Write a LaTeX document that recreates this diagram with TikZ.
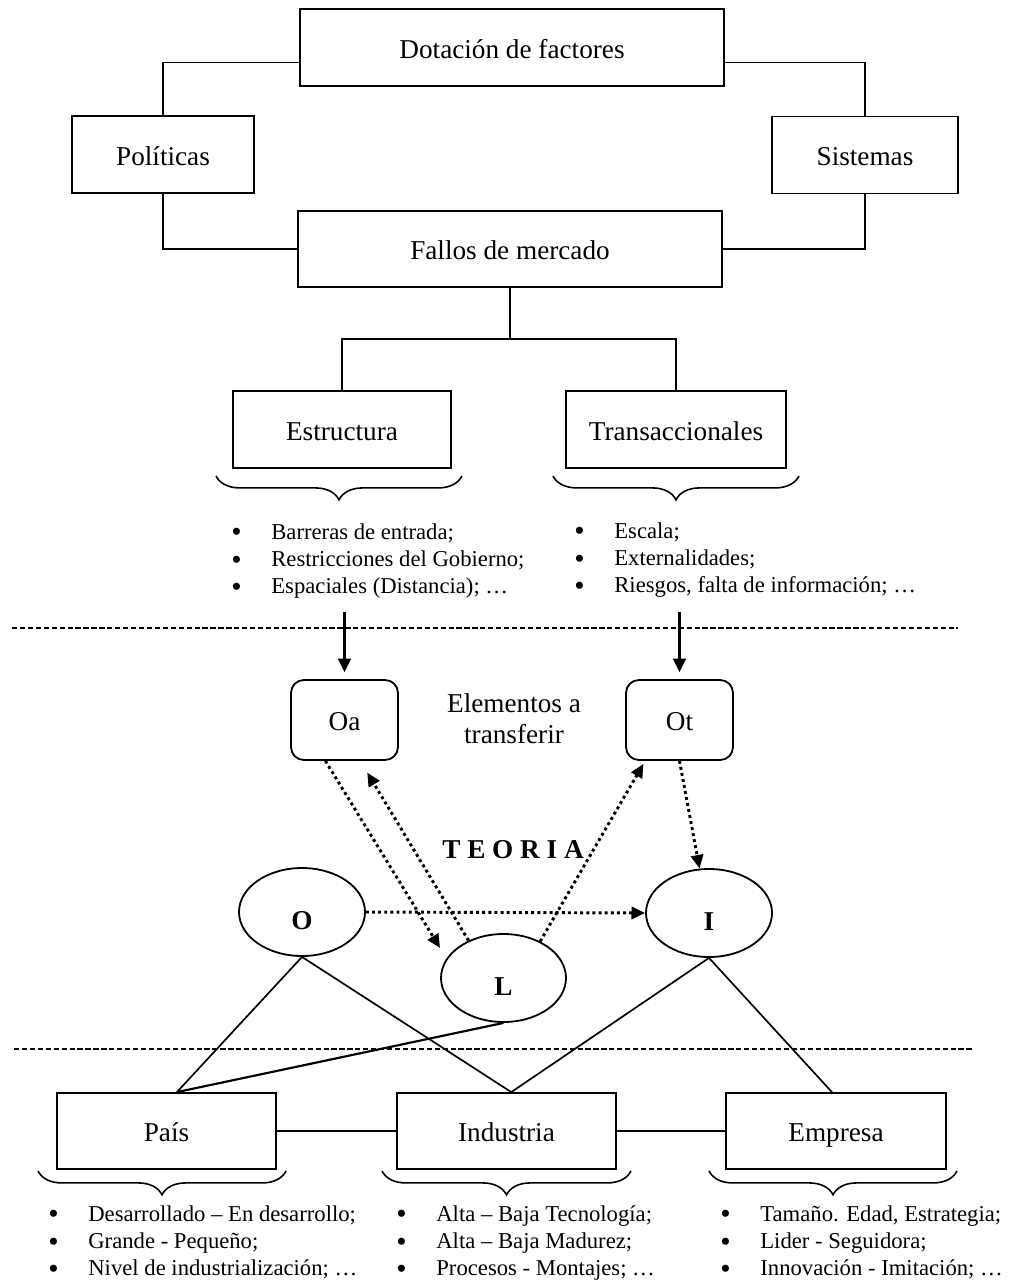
\documentclass[tikz,border=0pt]{standalone}
\usepackage{fontspec}
\setmainfont{Liberation Serif}
\usetikzlibrary{arrows.meta,decorations.pathreplacing,shapes.geometric}
\newcommand\bu{\raisebox{-1.3pt}{\fontsize{13}{12.1}\selectfont\textbullet}}
\newcommand\bl[3]{\begin{tabular}[t]{@{}p{17.6pt}@{}l@{}}\bu&#1\\\bu&#2\\\bu&#3\end{tabular}}
\begin{document}
\begin{tikzpicture}[x=0.441pt,y=-0.441pt,
  ln/.style={line width=0.75pt},
  box/.style 2 args={draw,line width=0.8pt,minimum width=#1*0.441pt,minimum height=#2*0.441pt,inner sep=0pt,text height=9.4pt,text depth=0pt,font=\fontsize{12}{14}\selectfont},
  rbox/.style={box={107}{80},rounded corners=5.7pt},
  oval/.style={draw,ellipse,line width=0.8pt,minimum width=126*0.441pt,minimum height=88*0.441pt,inner sep=0pt,text height=15pt,text depth=0pt,font=\fontsize{12}{14}\selectfont\bfseries},
  dotarr/.style={line width=1.3pt,dash pattern=on 1.3pt off 1.4pt,-{Triangle[length=6pt,width=5.4pt]}},
  arr/.style={line width=1pt,-{Triangle[length=6pt,width=5.6pt]}},
  sep/.style={line width=0.7pt,dash pattern=on 2.3pt off 1.2pt},
  brc/.style={decorate,decoration={brace,mirror,amplitude=10.5pt},line width=0.7pt},
  lst/.style={anchor=base west,inner sep=0pt,font=\fontsize{10}{12.1}\selectfont}
]
\useasboundingbox (0,0) rectangle (1010,1284);
\fill[white] (0,0) rectangle (1010,1284);

% top boxes
\node[box={424}{77}] (dot) at (512,47.5) {Dotación de factores};
\node[box={182}{77}] (pol) at (163,154.5) {Políticas};
\node[box={186}{77}] (sis) at (865,155) {Sistemas};
\node[box={424}{76}] (fal) at (510,249) {Fallos de mercado};
\node[box={218}{77}] (est) at (342,429.5) {Estructura};
\node[box={220}{77}] (tra) at (676,429.5) {Transaccionales};

\draw[ln] (dot.184) -| (pol.north);
\draw[ln] (dot.356) -| (sis.north);
\draw[ln] (pol.south) |- (fal.west);
\draw[ln] (sis.south) |- (fal.east);
\coordinate (jn) at (510,339);
\draw[ln] (fal.south) -- (jn);
\draw[ln] (est.north) |- (jn) -| (tra.north);

% braces and lists
\draw[brc] (216,476) -- (462,476);
\draw[brc] (553,476) -- (799,476);
\node[lst] (lest) at (231,539) {\bl{Barreras de entrada;}{Restricciones del Gobierno;}{Espaciales (Distancia); …}};
\node[lst] (ltra) at (574,538) {\bl{Escala;}{Externalidades;}{Riesgos, falta de información; …}};

\draw[sep] (12,628) -- (958,628);

% middle part
\node[rbox] (oa) at (344.5,720) {Oa};
\node[rbox] (ot) at (679.5,720) {Ot};
\node[font=\fontsize{12}{13.7}\selectfont,align=center,inner sep=0pt] (elem) at (514,718.5) {Elementos a\\transferir};
\coordinate (s1) at (344.5,612);
\coordinate (s2) at (679.5,612);
\draw[arr,shorten >=3pt] (s1) -- (oa.north);
\draw[arr,shorten >=3pt] (s2) -- (ot.north);

\node[font=\fontsize{12}{14}\selectfont\bfseries] (teo) at (513,850) {T E O R I A};

\node[oval] (O) at (302,912) {O};
\node[oval,minimum width=125*0.441pt] (L) at (503.5,978) {L};
\node[oval] (I) at (709,913) {I};

\coordinate (a1) at (440,948);
\draw[dotarr] (oa.245) -- (a1);
\draw[dotarr,shorten >=6pt] (L.133) -- (oa.291);
\draw[dotarr,shorten >=1.5pt] (L.45) -- (ot.230);
\draw[dotarr] (ot.south) -- (I.102);
\draw[dotarr] (O.east) -- (I.west);

\draw[sep] (14,1049) -- (973,1049);

% bottom boxes
\node[box={219}{76}] (pais) at (166.5,1131) {País};
\node[box={219}{76}] (ind) at (506.5,1131) {Industria};
\node[box={220}{76}] (emp) at (836,1131) {Empresa};

\draw[ln] (O.south) -- (pais.75);
\draw[ln] (O.south) -- (ind.83);
\draw[ln,line width=0.95pt] (L.south) -- (pais.75);
\draw[ln] (I.south) -- (ind.83);
\draw[ln] (I.south) -- (emp.96);
\draw[ln] (pais.east) -- (ind.west);
\draw[ln] (ind.east) -- (emp.west);

\draw[brc] (38,1171) -- (286,1171);
\draw[brc] (382,1171) -- (631,1171);
\draw[brc] (709,1171) -- (957,1171);
\node[lst] (lpais) at (48,1221) {\bl{Desarrollado – En desarrollo;}{Grande - Pequeño;}{Nivel de industrialización; …}};
\node[lst] (lind) at (396,1221) {\bl{Alta – Baja Tecnología;}{Alta – Baja Madurez;}{Procesos - Montajes; …}};
\node[lst] (lemp) at (720,1221) {\bl{Tamaño. Edad, Estrategia;}{Lider - Seguidora;}{Innovación - Imitación; …}};
\end{tikzpicture}
\end{document}
